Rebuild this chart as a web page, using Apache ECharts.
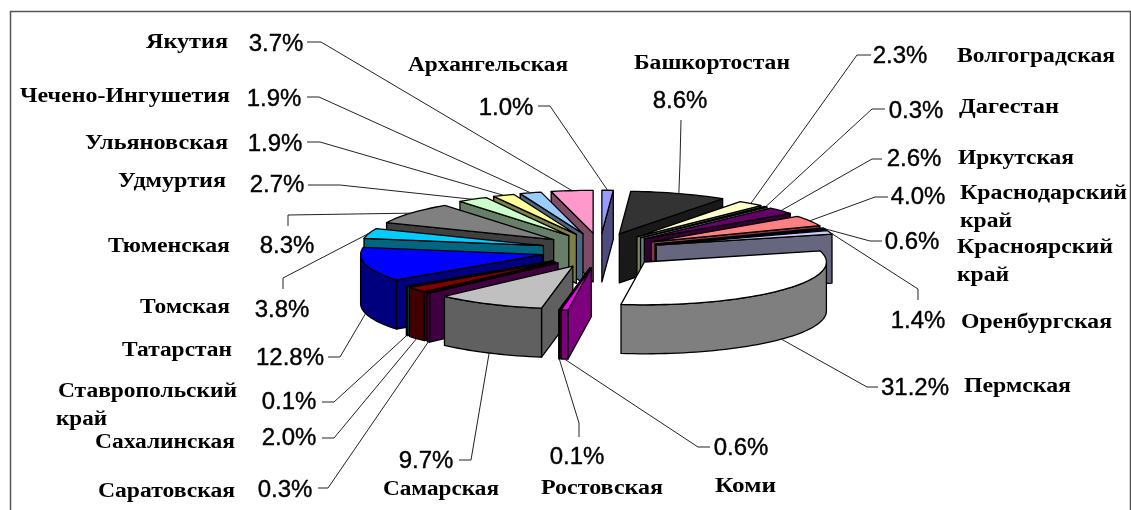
<!DOCTYPE html>
<html>
<head>
<meta charset="utf-8">
<script src="https://cdn.jsdelivr.net/npm/echarts@6/dist/echarts.min.js"></script>
<style>
html, body { margin: 0; padding: 0; background: #fff; }
#main { width: 1131px; height: 510px; }
</style>
</head>
<body>
<div id="main"></div>
<script>
// clockwise from 12 o'clock
const regions = ['Архангельская', 'Башкортостан', 'Волгоградская', 'Дагестан', 'Иркутская',
    'Краснодарский|край', 'Красноярский|край', 'Оренбургская', 'Пермская', 'Коми', 'Ростовская',
    'Самарская', 'Саратовская', 'Сахалинская', 'Ставропольский|край', 'Татарстан', 'Томская',
    'Тюменская', 'Удмуртия', 'Ульяновская', 'Чечено-Ингушетия', 'Якутия'];
const shares = [1.0, 8.6, 2.3, 0.3, 2.6, 4.0, 0.6, 1.4, 31.2, 0.6, 0.1, 9.7, 0.3, 2.0, 0.1, 12.8, 3.8, 8.3, 2.7, 1.9, 1.9, 3.7];
const topColors = ['#9999ff', '#333333', '#ffffcc', '#ccffff', '#660066', '#ff8080', '#0066cc', '#ccccff',
    '#ffffff', '#ff00ff', '#ffff00', '#c0c0c0', '#800080', '#800000', '#008080', '#0000ff', '#00ccff',
    '#808080', '#ccffcc', '#ffff99', '#99ccff', '#ff99cc'];

// label placement: name lines as [left, right, y], percent as [center x, y]
const nameBoxes = [
    [[408, 568, 66]], [[634, 790, 64]], [[957, 1115, 57]], [[959, 1059, 108]], [[958, 1074, 159]],
    [[960, 1127, 194], [960, 1012, 222]], [[957, 1113, 248], [957, 1009, 276]], [[961, 1112, 323]],
    [[964, 1071, 387]], [[715, 776, 487]], [[541, 663, 489]], [[383, 499, 490]], [[98, 235, 492]],
    [[95, 235, 443]], [[58, 237, 392], [56, 107, 420]], [[122, 232, 351]], [[140, 230, 308]],
    [[108, 230, 247]], [[118, 226, 182]], [[85, 228, 144]], [[20, 230, 97]], [[146, 228, 43]]
];
const percentPos = [
    [506, 108], [680, 101], [900, 56], [916, 111], [914, 159], [918, 197], [912, 242], [918, 321],
    [915, 388], [741, 448], [577, 457], [426, 461], [285, 490], [289, 438], [289, 402], [290, 358],
    [282, 310], [287, 246], [277, 185], [275, 144], [274, 99], [276, 44]
];
// leader start and elbow, the far end comes from the slice itself
const leaders = [
    [[538, 106], [550, 106]], [[681, 120], [680, 162]], [[871, 55], [857, 55]], [[885, 109], [872, 109]],
    [[882, 159], [872, 159]], [[888, 197], [875, 197]], [[882, 241], [870, 241]], [[918, 300], [918, 289]],
    [[878, 387], [867, 387]], [[710, 447], [698, 447]], [[579, 437], [579, 423]], [[459, 460], [471, 460]],
    [[318, 488], [328, 488]], [[322, 438], [334, 438]], [[322, 402], [334, 402]], [[328, 357], [340, 357]],
    [[283, 289], [283, 278]], [[288, 226], [288, 215]], [[308, 185], [340, 185]], [[307, 142], [320, 142]],
    [[307, 97], [319, 97]], [[307, 42], [321, 42]]
];

// projection of the exploded tilted pie
const cx = 600, cy = 250.5;
const radius = 182, squash = 0.235, depth = 49;
const explodeX = 59, explodeY = 17.5;

const rad = Math.PI / 180;
const total = shares.reduce((a, b) => a + b, 0);
const slices = [];
let cum = 0;
shares.forEach(function (s, i) {
    const a0 = cum / total * 360;
    cum += s;
    const a1 = cum / total * 360;
    const mid = (a0 + a1) / 2;
    slices.push({
        index: i, a0: a0, a1: a1, mid: mid,
        ox: cx + explodeX * Math.sin(mid * rad),
        oy: cy - explodeY * Math.cos(mid * rad)
    });
});

function rim(sl, a) {
    return [sl.ox + radius * Math.sin(a * rad), sl.oy - radius * Math.cos(a * rad) * squash];
}
function down(p) {
    return [p[0], p[1] + depth];
}
function darker(hex) {
    const n = parseInt(hex.slice(1), 16);
    const r = (n >> 16) >> 1, g = ((n >> 8) & 255) >> 1, b = (n & 255) >> 1;
    return 'rgb(' + r + ',' + g + ',' + b + ')';
}
function arcPoints(sl, from, to) {
    const pts = [];
    const steps = Math.max(1, Math.ceil((to - from) / 2));
    for (let k = 0; k <= steps; k++) {
        pts.push(rim(sl, from + (to - from) * k / steps));
    }
    return pts;
}
function poly(points, fill) {
    return {
        type: 'polygon',
        shape: { points: points },
        style: { fill: fill, stroke: '#000', lineWidth: 1.3, lineJoin: 'round' }
    };
}

// far slices first
const paintOrder = slices.slice().sort((a, b) => Math.cos(b.mid * rad) - Math.cos(a.mid * rad));

function renderSlice(params, api) {
    const sl = slices[api.value(0)];
    const top = topColors[sl.index], side = darker(top);
    const apex = [sl.ox, sl.oy];
    const children = [];
    // radial walls
    if (Math.sin(sl.a0 * rad) < 0) {
        const p = rim(sl, sl.a0);
        children.push(poly([apex, p, down(p), down(apex)], side));
    }
    if (Math.sin(sl.a1 * rad) > 0) {
        const p = rim(sl, sl.a1);
        children.push(poly([apex, p, down(p), down(apex)], side));
    }
    // outer wall, only the part facing the viewer
    const from = Math.max(sl.a0, 90), to = Math.min(sl.a1, 270);
    if (to > from) {
        const arc = arcPoints(sl, from, to);
        children.push(poly(arc.concat(arc.map(down).reverse()), side));
    }
    children.push(poly([apex].concat(arcPoints(sl, sl.a0, sl.a1)), top));
    return { type: 'group', children: children };
}

const ruler = document.createElement('canvas').getContext('2d');
const nameFont = 'bold 20px "Liberation Serif"';
const percentFont = '24px "Liberation Sans"';

function renderLabel(params, api) {
    const i = api.value(0);
    const sl = slices[i];
    const children = [];
    // leader ends on the top rim at the back, on the bottom rim at the front
    let end = rim(sl, sl.mid);
    if (Math.cos(sl.mid * rad) < 0) end = down(end);
    children.push({
        type: 'polyline',
        shape: { points: [leaders[i][0], leaders[i][1], end] },
        style: { fill: null, stroke: '#222', lineWidth: 1 }
    });
    children.push({
        type: 'text',
        x: percentPos[i][0], y: percentPos[i][1],
        style: {
            text: shares[i].toFixed(1) + '%', font: percentFont, fill: '#000',
            stroke: '#000', lineWidth: 0.4,
            textAlign: 'center', textVerticalAlign: 'middle'
        }
    });
    regions[i].split('|').forEach(function (line, n) {
        const box = nameBoxes[i][n];
        ruler.font = nameFont;
        children.push({
            type: 'text',
            x: box[0], y: box[2], originX: 0, originY: 0,
            scaleX: (box[1] - box[0]) / ruler.measureText(line).width,
            style: {
                text: line, font: nameFont, fill: '#000',
                textAlign: 'left', textVerticalAlign: 'middle'
            }
        });
    });
    return { type: 'group', children: children };
}

const myChart = echarts.init(document.getElementById('main'), null, { renderer: 'canvas' });
myChart.setOption({
    animation: false,
    backgroundColor: '#fff',
    graphic: [
        {
            type: 'polyline',
            shape: { points: [[10.5, 510], [10.5, 11.5], [1130.5, 11.5], [1130.5, 510]] },
            style: { fill: null, stroke: '#555', lineWidth: 1.5 },
            silent: true
        }
    ],
    series: [
        {
            type: 'custom',
            coordinateSystem: 'none',
            silent: true,
            data: paintOrder.map(s => [s.index]),
            renderItem: renderSlice
        },
        {
            type: 'custom',
            coordinateSystem: 'none',
            silent: true,
            data: shares.map((s, i) => [i]),
            renderItem: renderLabel
        }
    ]
});
</script>
</body>
</html>
